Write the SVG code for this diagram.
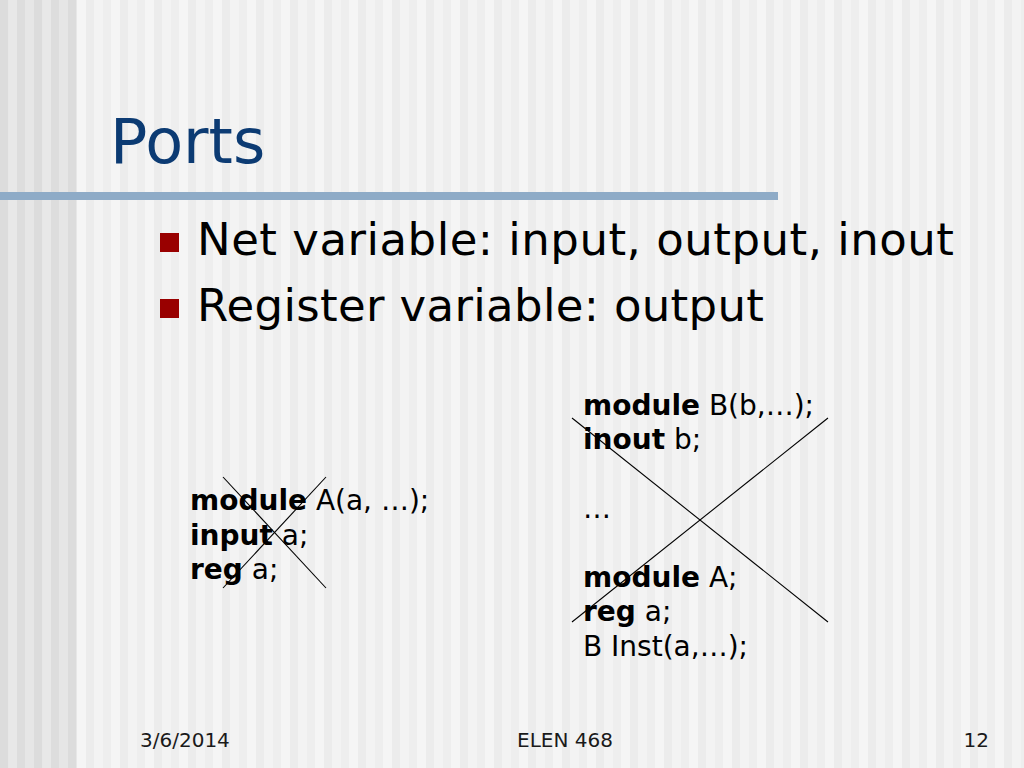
<svg xmlns="http://www.w3.org/2000/svg" width="1024" height="768" viewBox="0 0 1024 768">
  <defs>
    <pattern id="darkStripes" x="0" y="0" width="34" height="10" patternUnits="userSpaceOnUse">
      <rect x="0" y="0" width="8.5" height="10" fill="#dcdcdc"/>
      <rect x="8.5" y="0" width="8.5" height="10" fill="#e8e8e8"/>
      <rect x="17" y="0" width="8.5" height="10" fill="#dddddd"/>
      <rect x="25.5" y="0" width="8.5" height="10" fill="#e6e6e6"/>
    </pattern>
    <pattern id="lightStripes" x="77" y="0" width="34" height="10" patternUnits="userSpaceOnUse">
      <rect x="0" y="0" width="9" height="10" fill="#f5f5f5"/>
      <rect x="9" y="0" width="8" height="10" fill="#ececec"/>
      <rect x="17" y="0" width="9" height="10" fill="#f3f3f3"/>
      <rect x="26" y="0" width="8" height="10" fill="#eeeeee"/>
    </pattern>
    <style>
      .title { font-family: "DejaVu Sans", Verdana, sans-serif; font-size: 62px; fill: #0c3b73; }
      .bullet { font-family: "DejaVu Sans", Verdana, sans-serif; font-size: 45px; fill: #000000; }
      .code { font-family: "DejaVu Sans", Verdana, sans-serif; font-size: 28px; fill: #000000; }
      .kw { font-weight: bold; }
      .footer { font-family: "DejaVu Sans", Tahoma, sans-serif; font-size: 20px; fill: #1a1a1a; }
      .sq { fill: #990000; }
      .cross { stroke: #000000; stroke-width: 1.1; fill: none; }
    </style>
  </defs>

  <g id="background">
    <rect x="0" y="0" width="1024" height="768" fill="url(#lightStripes)"/>
    <rect x="0" y="0" width="77" height="768" fill="url(#darkStripes)"/>
    <rect x="0" y="192" width="778" height="8" fill="#8eabc7"/>
  </g>

  <g id="title">
    <text class="title" x="110" y="163">Ports</text>
  </g>

  <g id="bullets">
    <rect class="sq" x="160" y="233" width="19" height="19"/>
    <text class="bullet" x="197" y="255" textLength="757" lengthAdjust="spacing">Net variable: input, output, inout</text>
    <rect class="sq" x="160" y="299" width="19" height="19"/>
    <text class="bullet" x="197" y="321" textLength="567" lengthAdjust="spacing">Register variable: output</text>
  </g>

  <g id="code-left">
    <text class="code" x="190" y="510"><tspan class="kw">module</tspan> A(a, …);</text>
    <text class="code" x="190" y="545"><tspan class="kw">input</tspan> a;</text>
    <text class="code" x="190" y="579"><tspan class="kw">reg</tspan> a;</text>
  </g>

  <g id="code-right">
    <text class="code" x="583" y="415"><tspan class="kw">module</tspan> B(b,…);</text>
    <text class="code" x="583" y="449"><tspan class="kw">inout</tspan> b;</text>
    <text class="code" x="583" y="518">…</text>
    <text class="code" x="583" y="587"><tspan class="kw">module</tspan> A;</text>
    <text class="code" x="583" y="621"><tspan class="kw">reg</tspan> a;</text>
    <text class="code" x="583" y="656">B Inst(a,…);</text>
  </g>

  <g id="connectors">
    <line class="cross" x1="223" y1="477" x2="326" y2="588"/>
    <line class="cross" x1="326" y1="477" x2="223" y2="588"/>
    <line class="cross" x1="572" y1="418" x2="828" y2="622"/>
    <line class="cross" x1="828" y1="418" x2="572" y2="622"/>
  </g>

  <g id="footer">
    <text class="footer" x="140" y="747">3/6/2014</text>
    <text class="footer" x="565" y="747" text-anchor="middle">ELEN 468</text>
    <text class="footer" x="989" y="747" text-anchor="end">12</text>
  </g>
</svg>
